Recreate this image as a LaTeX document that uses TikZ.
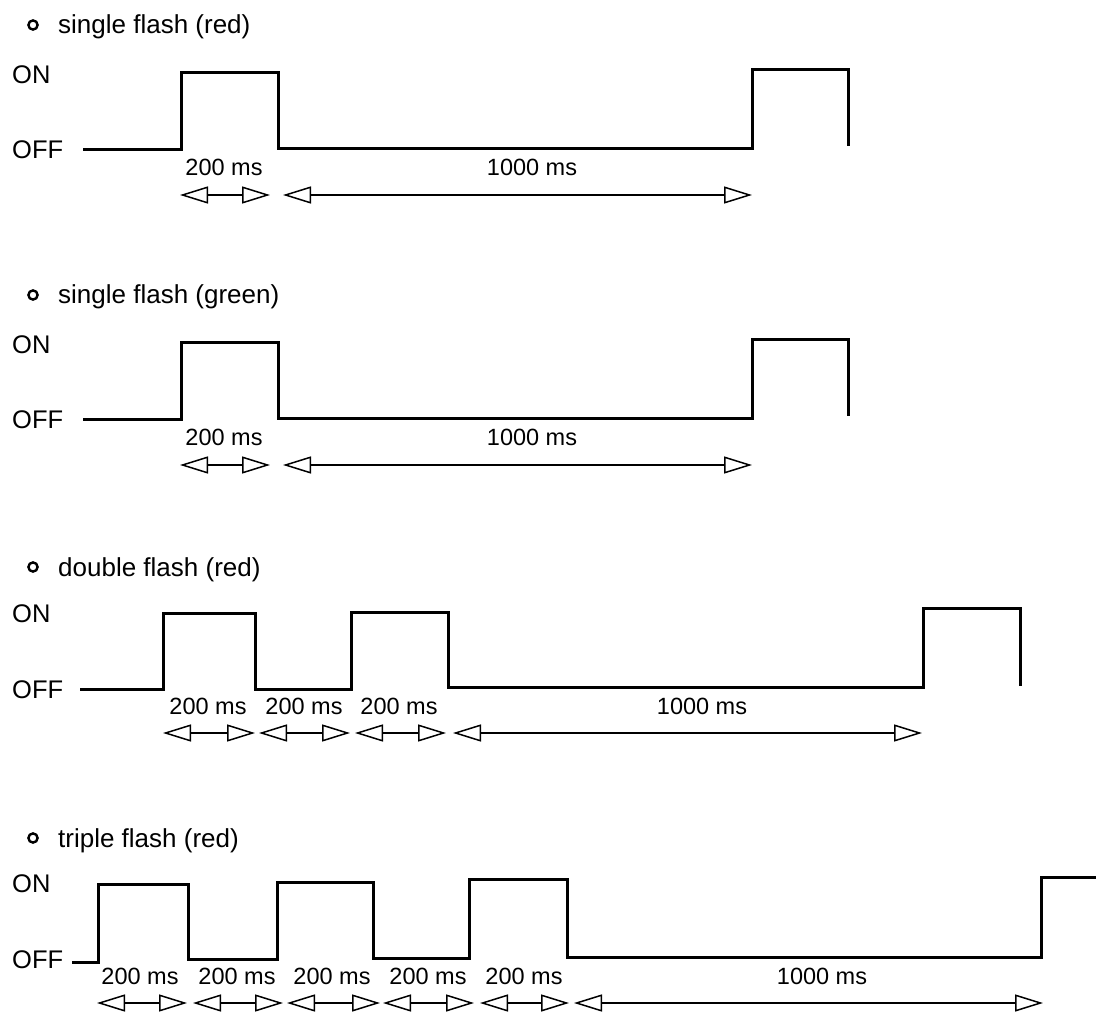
\documentclass[tikz,border=0pt]{standalone}
\usepackage{fontspec}
\setmainfont{Liberation Sans}
\usetikzlibrary{arrows.meta}
\begin{document}
\begin{tikzpicture}[x=1pt,y=-1pt,
  sig/.style={line width=3pt,line join=miter,line cap=butt},
  tri/.tip={Triangle[open,length=28pt,width=17pt,line width=1.5pt]},
  dim/.style={line width=2.2pt,tri-tri},
  ttl/.style={anchor=base west,inner sep=0pt,font=\fontsize{26}{30}\selectfont},
  lvl/.style={anchor=base west,inner sep=0pt,font=\fontsize{25.5}{30}\selectfont},
  lab/.style={anchor=base,inner sep=0pt,font=\fontsize{23.5}{28}\selectfont},
  bul/.style={line width=2.4pt}]
\useasboundingbox (0,0) rectangle (1096,1012);

% ---------- panel 1 ----------
\draw[bul] (33,25) circle (4.6pt);
\node[ttl] (t1) at (58,33) {single flash (red)};
\node[lvl] (on1) at (12,83) {ON};
\node[lvl] (off1) at (12,158) {OFF};
\draw[sig] (83,149) -- (181,149) -- (181,72) -- (278,72) -- (278,148) -- (752,148) -- (752,69) -- (848,69) -- (848,146);
\node[lab] (l1a) at (224,175) {200 ms};
\node[lab] (l1b) at (532,175) {1000 ms};
\coordinate (a1) at (180,195); \coordinate (b1) at (270,195);
\coordinate (c1) at (283,195); \coordinate (d1) at (752,195);
\draw[dim] (a1) -- (b1);
\draw[dim] (c1) -- (d1);

% ---------- panel 2 ----------
\draw[bul] (33,295) circle (4.6pt);
\node[ttl] (t2) at (58,303) {single flash (green)};
\node[lvl] (on2) at (12,353) {ON};
\node[lvl] (off2) at (12,428) {OFF};
\draw[sig] (83,419) -- (181,419) -- (181,342) -- (278,342) -- (278,418) -- (752,418) -- (752,339) -- (848,339) -- (848,416);
\node[lab] (l2a) at (224,445) {200 ms};
\node[lab] (l2b) at (532,445) {1000 ms};
\coordinate (a2) at (180,465); \coordinate (b2) at (270,465);
\coordinate (c2) at (283,465); \coordinate (d2) at (752,465);
\draw[dim] (a2) -- (b2);
\draw[dim] (c2) -- (d2);

% ---------- panel 3 ----------
\draw[bul] (33,567) circle (4.6pt);
\node[ttl] (t3) at (58,576) {double flash (red)};
\node[lvl] (on3) at (12,622) {ON};
\node[lvl] (off3) at (12,698) {OFF};
\draw[sig] (80,689) -- (163,689) -- (163,613) -- (255,613) -- (255,689) -- (351,689) -- (351,612) -- (448,612) -- (448,687) -- (923,687) -- (923,608) -- (1020,608) -- (1020,686);
\node[lab] (l3a) at (208,714) {200 ms};
\node[lab] (l3b) at (304,714) {200 ms};
\node[lab] (l3c) at (399,714) {200 ms};
\node[lab] (l3d) at (702,714) {1000 ms};
\coordinate (a3) at (163,733); \coordinate (b3) at (255,733);
\coordinate (c3) at (259,733); \coordinate (d3) at (350,733);
\coordinate (e3) at (355,733); \coordinate (f3) at (446,733);
\coordinate (g3) at (453,733); \coordinate (h3) at (922,733);
\draw[dim] (a3) -- (b3);
\draw[dim] (c3) -- (d3);
\draw[dim] (e3) -- (f3);
\draw[dim] (g3) -- (h3);

% ---------- panel 4 ----------
\draw[bul] (33,838) circle (4.6pt);
\node[ttl] (t4) at (58,847) {triple flash (red)};
\node[lvl] (on4) at (12,892) {ON};
\node[lvl] (off4) at (12,968) {OFF};
\draw[sig] (72,962) -- (98,962) -- (98,884) -- (188,884) -- (188,959) -- (277,959) -- (277,882) -- (373,882) -- (373,958) -- (469,958) -- (469,879) -- (567,879) -- (567,957) -- (1041,957) -- (1041,877) -- (1096,877);
\node[lab] (l4a) at (140,984) {200 ms};
\node[lab] (l4b) at (237,984) {200 ms};
\node[lab] (l4c) at (332,984) {200 ms};
\node[lab] (l4d) at (428,984) {200 ms};
\node[lab] (l4e) at (524,984) {200 ms};
\node[lab] (l4f) at (822,984) {1000 ms};
\coordinate (a4) at (97,1003);  \coordinate (b4) at (187,1003);
\coordinate (c4) at (193,1003); \coordinate (d4) at (283,1003);
\coordinate (e4) at (287,1003); \coordinate (f4) at (380,1003);
\coordinate (g4) at (383,1003); \coordinate (h4) at (474,1003);
\coordinate (i4) at (480,1003); \coordinate (j4) at (569,1003);
\coordinate (k4) at (574,1003); \coordinate (m4) at (1043,1003);
\draw[dim] (a4) -- (b4);
\draw[dim] (c4) -- (d4);
\draw[dim] (e4) -- (f4);
\draw[dim] (g4) -- (h4);
\draw[dim] (i4) -- (j4);
\draw[dim] (k4) -- (m4);
\end{tikzpicture}
\end{document}
